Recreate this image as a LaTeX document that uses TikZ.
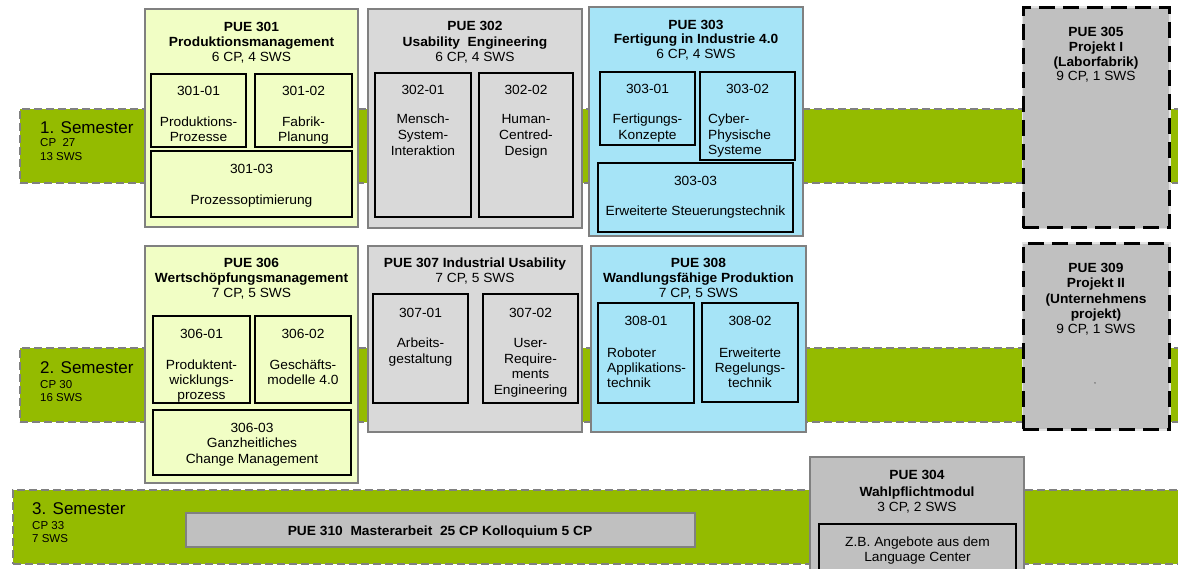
\documentclass[tikz,border=0pt]{standalone}
\usepackage{fontspec}
\setmainfont{Liberation Sans}
\newfontfamily\lbf[FakeStretch=1.035]{Liberation Sans}
\definecolor{sgreen}{RGB}{148,187,0}
\definecolor{bgray}{RGB}{128,128,128}
\definecolor{pyellow}{RGB}{241,254,197}
\definecolor{lgray}{RGB}{217,217,217}
\definecolor{mgray}{RGB}{192,192,192}
\definecolor{pblue}{RGB}{166,228,247}
\definecolor{gapgray}{RGB}{228,228,228}
\newcount\lc
\newcommand\T[4][]{\global\advance\lc by 1\relax\edef\nm{l\the\lc}\node[lbl,#1] (\nm) at (#2,{#3+5}) {#4};}
\newcommand\bx[6]{\node[#1, minimum width={#4-#2}, minimum height={#5-#3}] (#6) at (#2,#3) {};}
\tikzset{
 band/.style={fill=sgreen, draw=bgray, line width=1.5pt, dash pattern=on 8pt off 4pt, anchor=north west, inner sep=0, outer sep=0},
 pue/.style={draw=bgray, line width=2pt, anchor=north west, inner sep=0, outer sep=0},
 sub/.style={draw=black, line width=2.2pt, anchor=north west, inner sep=0, outer sep=0},
 proj/.style={fill=mgray, draw=black, line width=3pt, dash pattern=on 16pt off 8pt,
   preaction={draw=gapgray, line width=3pt, solid}, anchor=north west, inner sep=0, outer sep=0},
 lbl/.style={anchor=base, inner sep=0, font=\lbf\fontsize{13.3}{15}\selectfont},
 sem/.style={anchor=base west, inner sep=0, font=\fontsize{17}{20}\selectfont},
 semsm/.style={anchor=base west, inner sep=0, font=\fontsize{11.5}{14}\selectfont},
}
\begin{document}
\begin{tikzpicture}[x=1pt,y=-1pt]
\useasboundingbox (0,0) rectangle (1178,569);
\fill[white] (0,0) rectangle (1178,569);
% semester bands
\bx{band}{20}{109}{1200}{183}{b1}
\bx{band}{20}{348}{1200}{422}{b2}
\bx{band}{13}{490}{1200}{564}{b3}
\node[sem] (s1) at (40,134) {1. Semester};
\node[semsm] (s1a) at (40,147) {CP\ \ 27};
\node[semsm] (s1b) at (40,161) {13 SWS};
\node[sem] (s2) at (40,373) {2. Semester};
\node[semsm] (s2a) at (40,388) {CP 30};
\node[semsm] (s2b) at (40,401) {16 SWS};
\node[sem] (s3) at (32,514) {3. Semester};
\node[semsm] (s3a) at (32,529) {CP 33};
\node[semsm] (s3b) at (32,542) {7 SWS};
% PUE 301
\bx{pue,fill=pyellow}{145}{9}{358}{227}{p301}
\T{251.5}{27}{\textbf{PUE 301}}
\T{251.5}{42}{\textbf{Produktionsmanagement}}
\T{251.5}{57}{6 CP, 4 SWS}
\bx{sub}{151}{74}{246}{147}{m30101}
\T{198.5}{91}{301-01}\T{198.5}{122}{Produktions-}\T{198.5}{137}{Prozesse}
\bx{sub}{255}{74}{352}{147}{m30102}
\T{303.5}{91}{301-02}\T{303.5}{122}{Fabrik-}\T{303.5}{137}{Planung}
\bx{sub}{151}{151}{352}{217}{m30103}
\T{251.5}{169}{301-03}\T{251.5}{200}{Prozessoptimierung}
% PUE 302
\bx{pue,fill=lgray}{368}{9}{582}{228}{p302}
\T{475}{26}{\textbf{PUE 302}}
\T{475}{42}{\textbf{Usability\ \ Engineering}}
\T{475}{57}{6 CP, 4 SWS}
\bx{sub}{375}{73}{471}{217}{m30201}
\T{423}{90}{302-01}\T{423}{119}{Mensch-}\T{423}{135}{System-}\T{423}{151}{Interaktion}
\bx{sub}{479}{73}{573}{217}{m30202}
\T{526}{90}{302-02}\T{526}{119}{Human-}\T{526}{135}{Centred-}\T{526}{151}{Design}
% PUE 303
\bx{pue,fill=pblue}{589}{7}{803}{236}{p303}
\T{696}{25}{\textbf{PUE 303}}
\T{696}{39}{\textbf{Fertigung in Industrie 4.0}}
\T{696}{54}{6 CP, 4 SWS}
\bx{sub}{600}{72}{695}{145}{m30301}
\T{647.5}{89}{303-01}\T{647.5}{119}{Fertigungs-}\T{647.5}{135}{Konzepte}
\bx{sub}{700}{72}{795}{160}{m30302}
\T{747.5}{89}{303-02}
\T[anchor=base west]{708}{119}{Cyber-}\T[anchor=base west]{708}{135}{Physische}\T[anchor=base west]{708}{150}{Systeme}
\bx{sub}{598}{163}{793}{232}{m30303}
\T{695.5}{181}{303-03}\T{695.5}{211}{Erweiterte Steuerungstechnik}
% PUE 305
\bx{proj}{1023}{8}{1169}{228}{p305}
\T{1096}{32}{\textbf{PUE 305}}
\T{1096}{47}{\textbf{Projekt I}}
\T{1096}{62}{\textbf{(Laborfabrik)}}
\T{1096}{76}{9 CP, 1 SWS}
% PUE 306
\bx{pue,fill=pyellow}{145}{246}{358}{483}{p306}
\T{251.5}{263}{\textbf{PUE 306}}
\T{251.5}{278}{\textbf{Wertschöpfungsmanagement}}
\T{251.5}{293}{7 CP, 5 SWS}
\bx{sub}{153}{316}{250}{403}{m30601}
\T{201.5}{333}{306-01}\T{201.5}{364}{Produktent-}\T{201.5}{379}{wicklungs-}\T{201.5}{394}{prozess}
\bx{sub}{255}{316}{351}{403}{m30602}
\T{303}{333}{306-02}\T{303}{364}{Geschäfts-}\T{303}{379}{modelle 4.0}
\bx{sub}{153}{410}{351}{475}{m30603}
\T{252}{427}{306-03}\T{252}{442}{Ganzheitliches}\T{252}{458}{Change Management}
% PUE 307
\bx{pue,fill=lgray}{368}{246}{582}{432}{p307}
\T{475}{263}{\textbf{PUE 307 Industrial Usability}}
\T{475}{278}{7 CP, 5 SWS}
\bx{sub}{373}{294}{468}{403}{m30701}
\T{420.5}{312}{307-01}\T{420.5}{343}{Arbeits-}\T{420.5}{358}{gestaltung}
\bx{sub}{483}{294}{578}{403}{m30702}
\T{530.5}{312}{307-02}\T{530.5}{343}{User-}\T{530.5}{358}{Require-}\T{530.5}{373}{ments}\T{530.5}{389}{Engineering}
% PUE 308
\bx{pue,fill=pblue}{591}{246}{806}{432}{p308}
\T{698.5}{263}{\textbf{PUE 308}}
\T{698.5}{278}{\textbf{Wandlungsfähige Produktion}}
\T{698.5}{293}{7 CP, 5 SWS}
\bx{sub}{598}{303}{694}{403}{m30801}
\T{646}{321}{308-01}
\T[anchor=base west]{607}{352}{Roboter}\T[anchor=base west]{607}{367}{Applikations-}\T[anchor=base west]{607}{382}{technik}
\bx{sub}{702}{303}{798}{402}{m30802}
\T{750}{321}{308-02}\T{750}{352}{Erweiterte}\T{750}{367}{Regelungs-}\T{750}{382}{technik}
% PUE 309
\bx{proj}{1023}{244}{1169}{429}{p309}
\T{1096}{268}{\textbf{PUE 309}}
\T{1096}{283}{\textbf{Projekt II}}
\T{1096}{299}{\textbf{(Unternehmens}}
\T{1096}{314}{\textbf{projekt)}}
\T{1096}{329}{9 CP, 1 SWS}
\T[font=\fontsize{7}{8}\selectfont]{1095}{378}{,}
% PUE 304
\bx{pue,fill=mgray}{810}{457}{1024}{580}{p304}
\T{917}{474}{\textbf{PUE 304}}
\T{917}{491}{\textbf{Wahlpflichtmodul}}
\T{917}{506}{3 CP, 2 SWS}
\bx{sub}{819}{524}{1016}{580}{m304}
\T{917.5}{541}{Z.B. Angebote aus dem}
\T{917.5}{556}{Language Center}
% PUE 310
\bx{pue,fill=mgray}{186}{513}{695}{547}{p310}
\T{440}{530}{\textbf{PUE 310\ \ Masterarbeit\ \ 25 CP Kolloquium 5 CP}}
\end{tikzpicture}
\end{document}
